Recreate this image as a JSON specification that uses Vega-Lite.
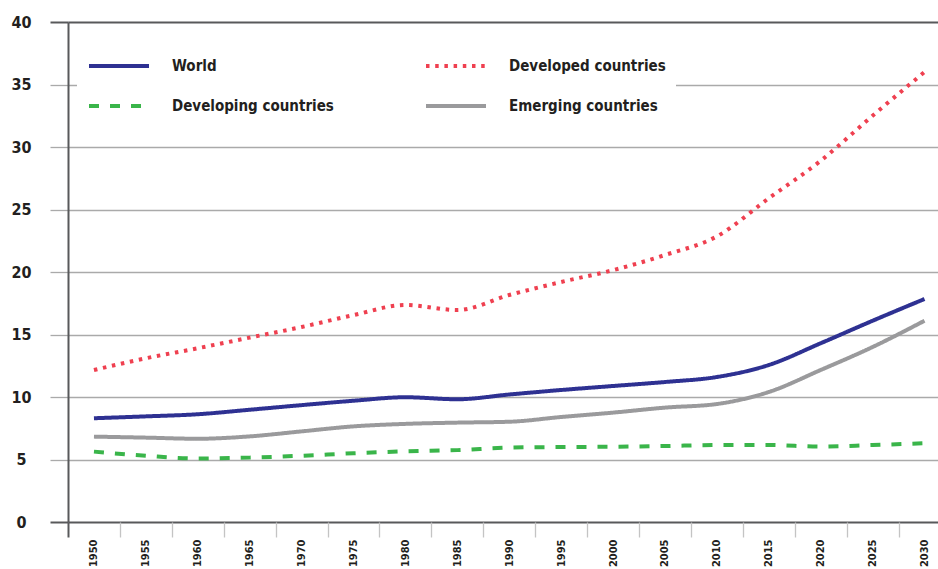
{
  "$schema": "https://vega.github.io/schema/vega-lite/v6.json",
  "autosize": {"type": "none"},
  "padding": {"left": 68, "top": 22, "right": 0, "bottom": 47},
  "width": 870,
  "height": 500,
  "background": "white",
  "config": {"view": {"stroke": null}},
  "data": {"values": [
    {"year": 1950, "series": "World", "value": 8.3},
    {"year": 1955, "series": "World", "value": 8.45},
    {"year": 1960, "series": "World", "value": 8.62},
    {"year": 1965, "series": "World", "value": 8.98},
    {"year": 1970, "series": "World", "value": 9.35},
    {"year": 1975, "series": "World", "value": 9.7},
    {"year": 1980, "series": "World", "value": 9.98},
    {"year": 1985, "series": "World", "value": 9.82},
    {"year": 1990, "series": "World", "value": 10.2},
    {"year": 1995, "series": "World", "value": 10.56},
    {"year": 2000, "series": "World", "value": 10.88},
    {"year": 2005, "series": "World", "value": 11.2},
    {"year": 2010, "series": "World", "value": 11.6},
    {"year": 2015, "series": "World", "value": 12.56},
    {"year": 2020, "series": "World", "value": 14.3},
    {"year": 2025, "series": "World", "value": 16.1},
    {"year": 2030, "series": "World", "value": 17.84},
    {"year": 1950, "series": "Developed countries", "value": 12.16},
    {"year": 1955, "series": "Developed countries", "value": 13.1},
    {"year": 1960, "series": "Developed countries", "value": 13.9},
    {"year": 1965, "series": "Developed countries", "value": 14.75},
    {"year": 1970, "series": "Developed countries", "value": 15.6},
    {"year": 1975, "series": "Developed countries", "value": 16.55},
    {"year": 1980, "series": "Developed countries", "value": 17.36},
    {"year": 1985, "series": "Developed countries", "value": 16.96},
    {"year": 1990, "series": "Developed countries", "value": 18.16},
    {"year": 1995, "series": "Developed countries", "value": 19.2},
    {"year": 2000, "series": "Developed countries", "value": 20.15},
    {"year": 2005, "series": "Developed countries", "value": 21.36},
    {"year": 2010, "series": "Developed countries", "value": 22.85},
    {"year": 2015, "series": "Developed countries", "value": 25.9},
    {"year": 2020, "series": "Developed countries", "value": 28.9},
    {"year": 2025, "series": "Developed countries", "value": 32.5},
    {"year": 2030, "series": "Developed countries", "value": 36.0},
    {"year": 1950, "series": "Developing countries", "value": 5.63},
    {"year": 1955, "series": "Developing countries", "value": 5.3},
    {"year": 1960, "series": "Developing countries", "value": 5.08},
    {"year": 1965, "series": "Developing countries", "value": 5.15},
    {"year": 1970, "series": "Developing countries", "value": 5.3},
    {"year": 1975, "series": "Developing countries", "value": 5.5},
    {"year": 1980, "series": "Developing countries", "value": 5.65},
    {"year": 1985, "series": "Developing countries", "value": 5.75},
    {"year": 1990, "series": "Developing countries", "value": 5.95},
    {"year": 1995, "series": "Developing countries", "value": 6.0},
    {"year": 2000, "series": "Developing countries", "value": 6.02},
    {"year": 2005, "series": "Developing countries", "value": 6.08},
    {"year": 2010, "series": "Developing countries", "value": 6.16},
    {"year": 2015, "series": "Developing countries", "value": 6.16},
    {"year": 2020, "series": "Developing countries", "value": 6.03},
    {"year": 2025, "series": "Developing countries", "value": 6.16},
    {"year": 2030, "series": "Developing countries", "value": 6.3},
    {"year": 1950, "series": "Emerging countries", "value": 6.83},
    {"year": 1955, "series": "Emerging countries", "value": 6.75},
    {"year": 1960, "series": "Emerging countries", "value": 6.66},
    {"year": 1965, "series": "Emerging countries", "value": 6.85},
    {"year": 1970, "series": "Emerging countries", "value": 7.25},
    {"year": 1975, "series": "Emerging countries", "value": 7.65},
    {"year": 1980, "series": "Emerging countries", "value": 7.85},
    {"year": 1985, "series": "Emerging countries", "value": 7.95},
    {"year": 1990, "series": "Emerging countries", "value": 8.02},
    {"year": 1995, "series": "Emerging countries", "value": 8.4},
    {"year": 2000, "series": "Emerging countries", "value": 8.75},
    {"year": 2005, "series": "Emerging countries", "value": 9.15},
    {"year": 2010, "series": "Emerging countries", "value": 9.44},
    {"year": 2015, "series": "Emerging countries", "value": 10.4},
    {"year": 2020, "series": "Emerging countries", "value": 12.16},
    {"year": 2025, "series": "Emerging countries", "value": 14.0},
    {"year": 2030, "series": "Emerging countries", "value": 16.1}
  ]},
  "mark": {"type": "line", "strokeWidth": 4, "interpolate": "monotone"},
  "encoding": {
    "x": {
      "field": "year", "type": "quantitative",
      "scale": {"domain": [1947.5, 2031.3], "nice": false, "zero": false},
      "axis": {
        "title": null,
        "values": [1947.5, 1950, 1952.5, 1955, 1957.5, 1960, 1962.5, 1965, 1967.5, 1970, 1972.5, 1975, 1977.5, 1980, 1982.5, 1985, 1987.5, 1990, 1992.5, 1995, 1997.5, 2000, 2002.5, 2005, 2007.5, 2010, 2012.5, 2015, 2017.5, 2020, 2022.5, 2025, 2027.5, 2030],
        "domain": false,
        "grid": false,
        "ticks": true,
        "tickSize": 15,
        "tickWidth": {"condition": {"test": "datum.value === 1947.5", "value": 2}, "value": 1.3},
        "tickColor": {"condition": {"test": "datum.value === 1947.5", "value": "#58595b"}, "value": "#c4c4c4"},
        "tickOpacity": {"condition": {"test": "datum.value % 5 === 0", "value": 0}, "value": 1},
        "labelExpr": "datum.value % 5 === 0 ? format(datum.value, 'd') : ''",
        "labelAngle": -90,
        "labelAlign": "right",
        "labelBaseline": "middle",
        "labelPadding": 2,
        "labelOverlap": false,
        "labelBound": false,
        "labelFlush": false,
        "labelFont": "DejaVu Sans Condensed, DejaVu Sans, sans-serif",
        "labelFontWeight": "bold",
        "labelFontSize": 11,
        "labelColor": "#231f20"
      }
    },
    "y": {
      "field": "value", "type": "quantitative",
      "scale": {"domain": [0, 40], "nice": false},
      "axis": {
        "title": null,
        "values": [0, 5, 10, 15, 20, 25, 30, 35, 40],
        "domain": true,
        "domainColor": "#58595b",
        "domainWidth": 2,
        "grid": true,
        "gridColor": {"condition": {"test": "datum.value === 0 || datum.value === 40", "value": "#58595b"}, "value": "#aaaaaa"},
        "gridWidth": {"condition": {"test": "datum.value === 0 || datum.value === 40", "value": 2}, "value": 1.3},
        "gridOpacity": 1,
        "tickSize": 18,
        "tickColor": {"condition": {"test": "datum.value === 0 || datum.value === 40", "value": "#58595b"}, "value": "#aaaaaa"},
        "tickWidth": {"condition": {"test": "datum.value === 0 || datum.value === 40", "value": 2}, "value": 1.3},
        "labelAlign": "center",
        "labelPadding": 29,
        "labelFont": "DejaVu Sans Condensed, DejaVu Sans, sans-serif",
        "labelFontWeight": "bold",
        "labelFontSize": 16,
        "labelColor": "#231f20"
      }
    },
    "color": {
      "field": "series", "type": "nominal",
      "scale": {
        "domain": ["World", "Developing countries", "Developed countries", "Emerging countries"],
        "range": ["#2e3192", "#3ab54a", "#ef4050", "#9a9a9c"]
      },
      "legend": {
        "title": null,
        "orient": "none",
        "legendX": 9,
        "legendY": 2,
        "columns": 2,
        "columnPadding": 84,
        "rowPadding": 0,
        "padding": 10,
        "fillColor": "white",
        "symbolType": "stroke",
        "symbolSize": 3600,
        "symbolStrokeWidth": 4,
        "labelOffset": 21,
        "labelFont": "DejaVu Sans Condensed, DejaVu Sans, sans-serif",
        "labelFontWeight": "bold",
        "labelFontSize": 15,
        "labelColor": "#231f20",
        "labelLimit": 400
      }
    },
    "strokeDash": {
      "field": "series", "type": "nominal",
      "scale": {
        "domain": ["World", "Developing countries", "Developed countries", "Emerging countries"],
        "range": [[1, 0], [10, 11], [3.5, 5.7], [1, 0]]
      }
    }
  }
}
